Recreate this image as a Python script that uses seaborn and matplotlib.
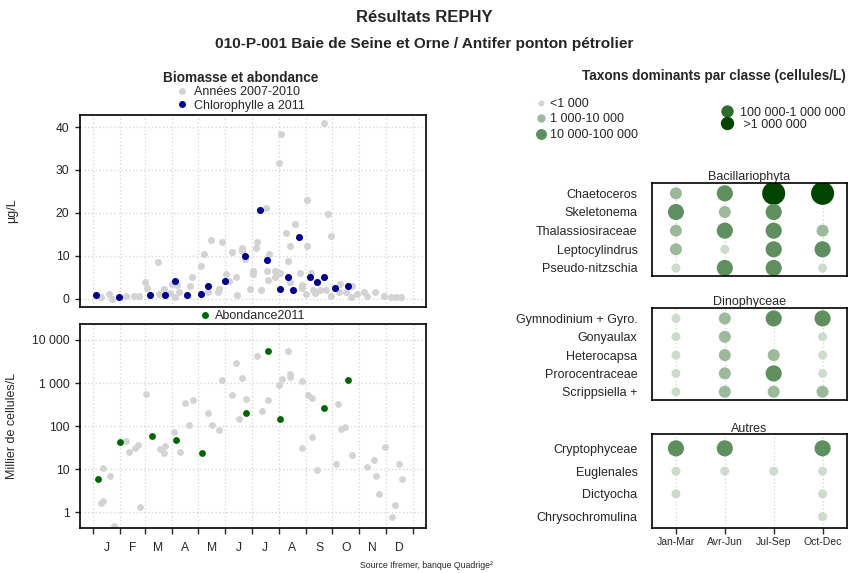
import numpy as np
import pandas as pd
import matplotlib
matplotlib.use("Agg")
import matplotlib.pyplot as plt
from matplotlib.lines import Line2D
from matplotlib.ticker import NullLocator, FixedLocator
import seaborn as sns

# --- calendrier (jour de l'annee, 1er janvier = 0)
month_starts = [0, 31, 59, 90, 120, 151, 181, 212, 243, 273, 304, 334, 365]
month_labels = ["J", "F", "M", "A", "M", "J", "J", "A", "S", "O", "N", "D"]

# --- chlorophylle a (ug/L)
chl11_day = [3, 30, 65, 82, 93, 107, 123, 131, 150, 173, 191, 199, 213, 222, 228,
             235, 248, 255, 263, 276, 291]
chl11_val = [1.0, 0.4, 1.0, 1.0, 4.2, 1.0, 1.2, 3.1, 4.2, 9.9, 20.6, 9.1, 2.3, 5.1, 2.0,
             14.3, 5.1, 3.9, 5.1, 2.6, 2.9]

chl_ref_day = [9.5, 18, 22, 38, 46.5, 52.5, 58.7, 62, 73.5, 74.7, 80.4, 87.6, 90.2, 93, 96,
               97.8, 110.7, 112.7, 123.7, 126.4, 131, 134.4, 142.4, 143.5, 147, 151.5, 155,
               159, 163, 164.8, 169.4, 169.7, 173.5, 179, 183, 183, 185.4, 187, 192, 196.8,
               198, 199.4, 200.6, 207.4, 207.4, 210, 212, 214.6, 263, 243.6, 268, 230, 220.7,
               225, 271, 244.7, 223, 213, 224.5, 236.7, 238, 238, 242.8, 249, 251, 253, 258.8,
               266.4, 272, 281.6, 281, 289, 295, 294, 300.7, 309, 313, 322, 332, 340.6, 346, 352]
chl_ref_val = [0.4, 1.1, 0.0, 0.6, 0.6, 0.6, 4.0, 2.6, 8.6, 1.2, 2.3, 1.4, 3.4, 0.5, 3.3,
               1.6, 2.9, 5.0, 7.6, 10.5, 1.7, 13.8, 1.7, 2.2, 13.2, 5.8, 4.2,
               11.0, 5.0, 0.8, 11.9, 11.2, 9.2, 2.3, 6.4, 5.7, 11.9, 13.2, 2.1, 21.1,
               6.4, 4.3, 10.5, 6.4, 5.0, 6.0, 31.6, 38.4, 41.0, 23.1, 19.8, 17.5, 15.4,
               12.4, 14.7, 12.2, 8.9, 6.1, 3.9, 5.9, 3.3, 2.6, 1.2, 5.9, 2.1, 1.3, 2.1,
               2.1, 0.7, 3.5, 1.5, 1.7, 2.9, 0.5, 1.2, 1.6, 0.7, 1.5, 0.7, 0.4, 0.5, 0.4]

# --- abondance (milliers de cellules/L)
ab11_day = [5, 31, 67, 95, 124, 174, 200, 213, 263, 291]
ab11_val = [6.0, 42, 60, 48, 24, 200, 5500, 148, 258, 1150]

ab_ref_day = [9.2, 11, 11.8, 19, 23.3, 37.3, 40.7, 48, 51, 54, 60, 75.8, 80.4, 82, 92, 99,
              104.7, 109.6, 113.8, 131, 135.5, 143.5, 147, 159, 163, 166.3, 170.5, 174.3,
              187, 193.3, 199.4, 212, 222, 216, 225, 225, 238, 238, 245.5, 250, 250, 255.4,
              277.8, 279.3, 282.4, 287.3, 295.3, 313.2, 321, 322.7, 326, 333, 341, 345, 349, 352.4]
ab_ref_val = [1.6, 1.8, 10.5, 6.9, 0.49, 45, 25.5, 31.6, 36, 1.35, 550, 29, 24, 35, 73, 25,
              350, 106, 400, 200, 106, 83, 1150, 535, 2900, 146, 1310, 420,
              4250, 228, 405, 895, 5500, 1240, 1620, 1350, 1100, 31, 520, 455, 57, 9.7,
              13, 330, 87, 94, 21, 11.2, 16.6, 6.9, 2.7, 33, 0.76, 1.45, 13, 6.0]

ab_ticks = [1, 10, 100, 1000, 10000]
ab_tick_labels = ["1", "10", "100", "1 000", "10 000"]

# --- taxons dominants : classe d'abondance par trimestre (0 = absent)
seasons = ["Jan-Mar", "Avr-Jun", "Jul-Sep", "Oct-Dec"]
bacillario_taxa = ["Chaetoceros", "Skeletonema", "Thalassiosiraceae", "Leptocylindrus",
                   "Pseudo-nitzschia"]
bacillario_cls = [[2, 3, 5, 5], [3, 2, 3, 0], [2, 3, 3, 2], [2, 1, 3, 3], [1, 3, 3, 1]]
dino_taxa = ["Gymnodinium + Gyro.", "Gonyaulax", "Heterocapsa", "Prorocentraceae",
             "Scrippsiella +"]
dino_cls = [[1, 2, 3, 3], [1, 2, 0, 1], [1, 2, 2, 1], [1, 2, 3, 1], [1, 2, 2, 2]]
autres_taxa = ["Cryptophyceae", "Euglenales", "Dictyocha", "Chrysochromulina"]
autres_cls = [[3, 3, 0, 3], [1, 1, 1, 1], [1, 0, 0, 1], [0, 0, 0, 1]]

class_labels = ["<1 000", "1 000-10 000", "10 000-100 000", "100 000-1 000 000", " >1 000 000"]
class_colors = {1: "#cddbcd", 2: "#9cb99c", 3: "#5f8e5f", 4: "#2f6a2f", 5: "#004400"}
class_sizes = {1: 42, 2: 75, 3: 135, 4: 190, 5: 275}
legend_ms = {1: 4.3, 2: 6.0, 3: 7.9, 4: 8.9, 5: 9.6}

GREY, BLUE, GREEN = "#d3d3d3", "#00008b", "#006400"
FS = 9      # texte courant
FSB = 9.8   # titres gras

sns.set_style("white")
plt.rcParams["font.family"] = ["Liberation Sans", "DejaVu Sans"]

W, H = 848, 573
fig = plt.figure(figsize=(W / 100, H / 100), dpi=100)


def px_axes(x0, y0, x1, y1):
    return fig.add_axes([x0 / W, 1 - y1 / H, (x1 - x0) / W, (y1 - y0) / H])


ax_chl = px_axes(80, 115, 426, 307)
ax_ab = px_axes(80, 324, 426, 528)

grid_kw = dict(color=GREY, ls=(0, (1, 2)), lw=0.9)

# chlorophylle
sns.scatterplot(x=chl_ref_day, y=chl_ref_val, color=GREY, s=26, linewidth=0, ax=ax_chl)
sns.scatterplot(x=chl11_day, y=chl11_val, color=BLUE, s=26, linewidth=0, ax=ax_chl)
ax_chl.set_xlim(-15, 380)
ax_chl.set_ylim(-1.9, 42.8)
ax_chl.set_xticks(month_starts)
ax_chl.set_yticks([0, 10, 20, 30, 40])
ax_chl.tick_params(axis="x", length=0, labelbottom=False)
ax_chl.set_ylabel("µg/L", fontsize=FS)
ax_chl.yaxis.set_label_coords(-0.179, 0.5)

# abondance
sns.scatterplot(x=ab_ref_day, y=ab_ref_val, color=GREY, s=24, linewidth=0, ax=ax_ab)
sns.scatterplot(x=ab11_day, y=ab11_val, color=GREEN, s=24, linewidth=0, ax=ax_ab)
ax_ab.set_yscale("log")
ax_ab.set_xlim(-15, 380)
ax_ab.set_ylim(0.43, 23500)
ax_ab.yaxis.set_major_locator(FixedLocator(ab_ticks))
ax_ab.set_yticklabels(ab_tick_labels)
ax_ab.yaxis.set_minor_locator(NullLocator())
ax_ab.set_xticks(month_starts)
ax_ab.set_xticklabels([])
mid = [(a + b) / 2 for a, b in zip(month_starts[:-1], month_starts[1:])]
ax_ab.set_xticks(mid, minor=True)
ax_ab.set_xticklabels(month_labels, minor=True)
ax_ab.tick_params(axis="x", which="major", direction="out", length=4.5, width=1, bottom=True)
ax_ab.tick_params(axis="x", which="minor", length=0, pad=10, labelsize=8.7)
ax_ab.set_ylabel("Millier de cellules/L", fontsize=FS)
ax_ab.yaxis.set_label_coords(-0.179, 0.5)

for ax in (ax_chl, ax_ab):
    ax.grid(True, which="major", **grid_kw)
    ax.set_axisbelow(True)
    ax.tick_params(axis="y", direction="out", length=3.6, width=1, left=True,
                   labelsize=8.7, pad=4)
    for sp in ax.spines.values():
        sp.set_color("black")
        sp.set_linewidth(1.2)


# legendes gauche
def dot(color, ms):
    return Line2D([], [], marker="o", ls="none", color=color, markersize=ms, markeredgewidth=0)


fig.legend([dot(GREY, 5), dot(BLUE, 5)], ["Années 2007-2010", "Chlorophylle a 2011"],
           title="Biomasse et abondance", alignment="center",
           title_fontproperties={"weight": "bold", "size": FSB},
           loc="center", bbox_to_anchor=(241 / W, 1 - 91 / H), frameon=False,
           fontsize=FS, handlelength=0.8, handletextpad=0.6, labelspacing=0.12,
           borderpad=0)
fig.legend([dot(GREEN, 5)], ["Abondance2011"], loc="center",
           bbox_to_anchor=(252.5 / W, 1 - 316 / H), frameon=False, fontsize=FS,
           handlelength=0.8, handletextpad=0.36, borderpad=0)


# panneaux taxons
def taxa_panel(box, taxa, cls, title, ylim, bottom_labels):
    ax = px_axes(*box)
    rows = []
    for i, (taxon, vals) in enumerate(zip(taxa, cls)):
        for j, c in enumerate(vals):
            if c > 0:
                rows.append({"saison": j + 1, "rang": i + 1, "classe": c})
    df = pd.DataFrame(rows)
    sns.scatterplot(data=df, x="saison", y="rang", hue="classe", size="classe",
                    palette=class_colors, sizes=class_sizes, linewidth=0,
                    legend=False, ax=ax)
    ax.set_xlim(0.5, 4.5)
    ax.set_ylim(*ylim)
    ax.set_yticks(range(1, len(taxa) + 1))
    ax.set_yticklabels(taxa)
    ax.set_xticks(range(1, 5))
    ax.set_xlabel("")
    ax.set_ylabel("")
    ax.grid(True, axis="x", **grid_kw)
    ax.set_axisbelow(True)
    ax.tick_params(axis="y", length=0, pad=10, labelsize=FS)
    if bottom_labels:
        ax.set_xticklabels(seasons)
        ax.tick_params(axis="x", direction="out", length=4.5, width=1, bottom=True,
                       labelsize=7.5, pad=2)
    else:
        ax.tick_params(axis="x", length=0, labelbottom=False)
    ax.set_title(title, fontsize=FS, pad=1.5)
    for sp in ax.spines.values():
        sp.set_color("black")
        sp.set_linewidth(1.2)
    return ax


taxa_panel((651.5, 182.7, 847, 276), bacillario_taxa, bacillario_cls, "Bacillariophyta",
           (5.43, 0.43), False)
taxa_panel((651.5, 308, 847, 400), dino_taxa, dino_cls, "Dinophyceae", (5.45, 0.43), False)
taxa_panel((651.5, 434, 847, 528), autres_taxa, autres_cls, "Autres", (4.5, 0.37), True)

# legende des classes
fig.legend([dot(class_colors[k], legend_ms[k]) for k in (1, 2, 3)], class_labels[:3],
           loc="upper left", bbox_to_anchor=(536 / W, 1 - 98 / H), frameon=False,
           fontsize=FS, handlelength=0.8, handletextpad=0.3, labelspacing=0.28,
           borderpad=0, borderaxespad=0)
fig.legend([dot(class_colors[k], legend_ms[k]) for k in (4, 5)], class_labels[3:],
           loc="upper left", bbox_to_anchor=(722 / W, 1 - 106.5 / H), frameon=False,
           fontsize=FS, handlelength=0.8, handletextpad=0.6, labelspacing=0.0,
           borderpad=0, borderaxespad=0)

# textes
fig.text(0.5, 1 - 18 / H, "Résultats REPHY", ha="center", va="center",
         fontsize=12, weight="bold")
fig.text(0.5, 1 - 44 / H, "010-P-001 Baie de Seine et Orne / Antifer ponton pétrolier",
         ha="center", va="center", fontsize=11.1, weight="bold")
fig.text(714 / W, 1 - 76 / H, "Taxons dominants par classe (cellules/L)",
         ha="center", va="center", fontsize=FSB, weight="bold")
fig.text(426 / W, 1 - 566 / H, "Source Ifremer, banque Quadrige²",
         ha="center", va="center", fontsize=6.3)

fig.savefig("out.png", dpi=100)
